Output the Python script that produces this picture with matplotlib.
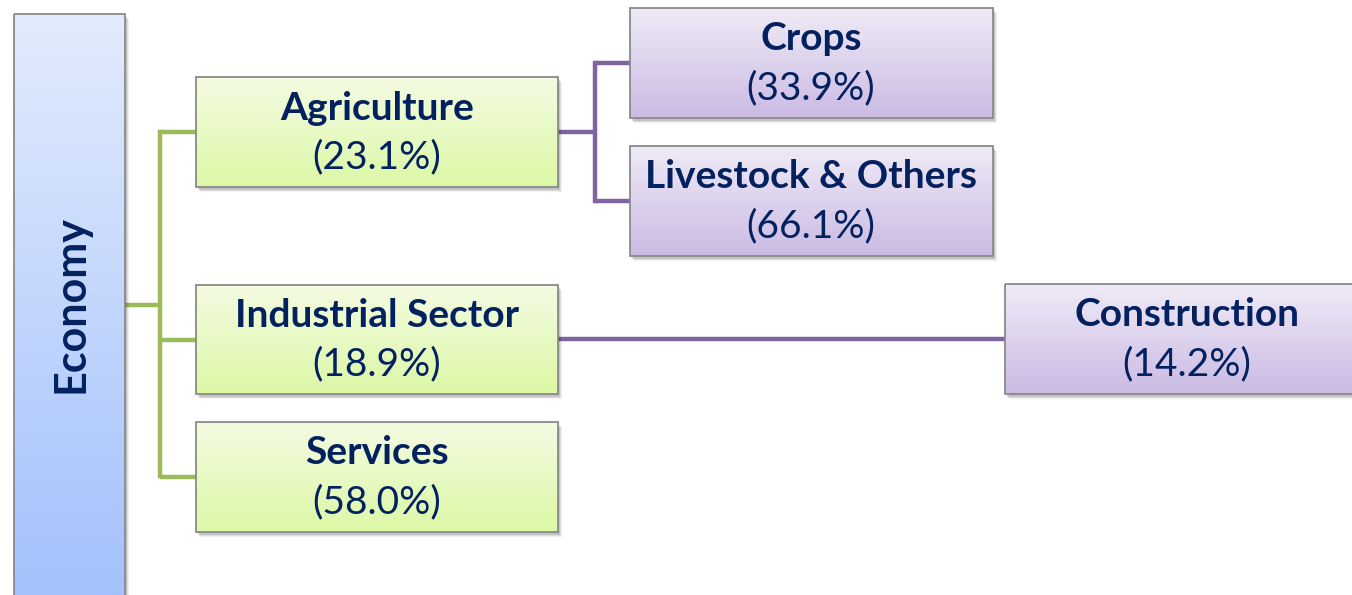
import numpy as np
import matplotlib.pyplot as plt
from matplotlib.patches import Rectangle
from matplotlib.colors import LinearSegmentedColormap

# node names and their shares
root_label = 'Economy'
sector_labels = ['Agriculture', 'Industrial Sector', 'Services']
sector_shares = [23.1, 18.9, 58.0]
agri_labels = ['Crops', 'Livestock & Others']
agri_shares = [33.9, 66.1]
industry_labels = ['Construction']
industry_shares = [14.2]

text_color = '#03215f'
green_line = '#9bbb59'
purple_line = '#8064a2'
font = 'Lato'

fig = plt.figure(figsize=(13.52, 5.95), dpi=100)
ax = fig.add_axes([0, 0, 1, 1])
ax.set_xlim(0, 1352)
ax.set_ylim(595, 0)
ax.axis('off')


def box(x0, y0, x1, y1, top, bottom, z=3):
    # soft shadow
    for k, a in [(5, 0.06), (4, 0.08), (3, 0.12)]:
        ax.add_patch(Rectangle((x0 + k - 1, y0 + k), x1 - x0, y1 - y0,
                               facecolor='black', alpha=a, edgecolor='none', zorder=z))
    cmap = LinearSegmentedColormap.from_list('g', [top, bottom])
    grad = np.linspace(0, 1, 100).reshape(-1, 1)
    ax.imshow(grad, cmap=cmap, extent=(x0, x1, y1, y0), aspect='auto',
              zorder=z + 0.1, interpolation='bilinear')
    ax.add_patch(Rectangle((x0, y0), x1 - x0, y1 - y0, facecolor='none',
                           edgecolor='#8a8a8a', lw=1.3, zorder=z + 0.2))


def label(cx, cy, name, share):
    ax.text(cx, cy - 24, name, ha='center', va='center', fontsize=28,
            fontweight='bold', color=text_color, family=font, zorder=6)
    ax.text(cx, cy + 25, '(%.1f%%)' % share, ha='center', va='center', fontsize=28,
            color=text_color, family=font, zorder=6)


# connectors
lw = 3.2
ax.plot([125, 160], [305, 305], color=green_line, lw=lw, zorder=1, solid_capstyle='butt')
ax.plot([160, 160], [132, 476], color=green_line, lw=lw, zorder=1, solid_capstyle='projecting')
sector_y = [(77, 187), (285, 394), (422, 532)]
for y0, y1 in sector_y:
    ym = (y0 + y1) / 2
    ax.plot([160, 196], [ym, ym], color=green_line, lw=lw, zorder=1, solid_capstyle='butt')

agri_y = [(8, 118), (146, 256)]
ax.plot([558, 595], [132, 132], color=purple_line, lw=lw, zorder=1, solid_capstyle='butt')
ax.plot([595, 595], [63, 201], color=purple_line, lw=lw, zorder=1, solid_capstyle='projecting')
for y0, y1 in agri_y:
    ym = (y0 + y1) / 2
    ax.plot([595, 630], [ym, ym], color=purple_line, lw=lw, zorder=1, solid_capstyle='butt')
ax.plot([558, 1005], [339, 339], color=purple_line, lw=lw, zorder=1, solid_capstyle='butt')

# root
box(14, 14, 125, 600, '#e2ebfd', '#a3c1fc')
ax.text(70, 304, root_label, rotation=90, ha='center', va='center', fontsize=31,
        fontweight='bold', color=text_color, family=font, zorder=6)

# sectors
for (y0, y1), name, share in zip(sector_y, sector_labels, sector_shares):
    box(196, y0, 558, y1, '#f4fbe2', '#dcf8a6')
    label(377, (y0 + y1) / 2, name, share)

# agriculture breakdown
for (y0, y1), name, share in zip(agri_y, agri_labels, agri_shares):
    box(630, y0, 993, y1, '#efeaf6', '#cbbbe4')
    label(811, (y0 + y1) / 2, name, share)

# industry breakdown
for name, share in zip(industry_labels, industry_shares):
    box(1005, 284, 1370, 394, '#efeaf6', '#cbbbe4')
    label(1187, 339, name, share)

fig.savefig('out.png', dpi=100)
